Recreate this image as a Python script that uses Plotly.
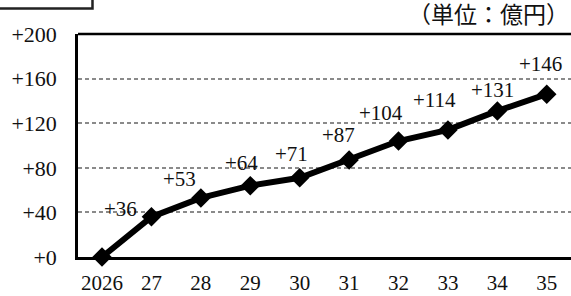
import plotly.graph_objects as go

years = ["2026", "27", "28", "29", "30", "31", "32", "33", "34", "35"]
values = [0, 36, 53, 64, 71, 87, 104, 114, 131, 146]
labels = ["", "+36", "+53", "+64", "+71", "+87", "+104", "+114", "+131", "+146"]
y_ticks = [0, 40, 80, 120, 160, 200]
y_ticktext = ["+0", "+40", "+80", "+120", "+160", "+200"]
unit_text = "（単位：億円）"

# label offsets in pixels (styling)
label_dx = [0, -31, -21, -9, -8, -11, -18, -13, -5, -6]
label_dy = [0, 8, 19, 23, 24, 25, 28, 30, 21, 30]

FONT = "Liberation Serif, DejaVu Serif, Noto Sans CJK JP, serif"
xs = list(range(len(years)))

fig = go.Figure()
fig.add_trace(go.Scatter(
    x=xs, y=values, mode="lines+markers",
    line=dict(color="black", width=6),
    marker=dict(symbol="diamond", size=15, color="black"),
    cliponaxis=False, showlegend=False, hoverinfo="skip",
))

annotations = []
for i, (xv, yv, t) in enumerate(zip(xs, values, labels)):
    if not t:
        continue
    annotations.append(dict(
        x=xv, y=yv, xref="x", yref="y", text=t, showarrow=False,
        xshift=label_dx[i], yshift=label_dy[i],
        xanchor="center", yanchor="middle",
        font=dict(family=FONT, size=21, color="#111"),
    ))
annotations.append(dict(
    x=1.0, y=1.081, xref="paper", yref="paper", text=unit_text, showarrow=False,
    xanchor="right", yanchor="middle",
    font=dict(family=FONT, size=23, color="#111"),
))

fig.update_layout(
    width=571, height=296,
    margin=dict(l=78, r=0, t=34, b=39),
    paper_bgcolor="white", plot_bgcolor="white",
    annotations=annotations,
    shapes=[
        dict(type="line", xref="paper", yref="paper", x0=0, x1=1, y0=1, y1=1,
             line=dict(color="black", width=2.5)),
        dict(type="rect", xref="paper", yref="paper", x0=-0.3, x1=0.0294,
             y0=1.114, y1=1.3, line=dict(color="#222", width=2.5)),
    ],
    xaxis=dict(
        range=[-0.486, 9.49], tickvals=xs, ticktext=years,
        showgrid=False, zeroline=False,
        showline=True, linecolor="black", linewidth=2.5,
        ticks="", ticklabelstandoff=5,
        tickfont=dict(family=FONT, size=21, color="#111"),
    ),
    yaxis=dict(
        range=[0, 200], tickvals=y_ticks, ticktext=y_ticktext,
        showgrid=True, gridcolor="#8a8a8a", gridwidth=1.5, griddash="4px,3px",
        zeroline=False,
        showline=True, linecolor="black", linewidth=2.5,
        ticks="", ticklabelstandoff=14,
        tickfont=dict(family=FONT, size=22, color="#111"),
    ),
)

fig.write_html(
    "out.html",
    config={"displayModeBar": False},
    post_script="document.body.style.margin='0';document.body.style.padding='0';",
)
